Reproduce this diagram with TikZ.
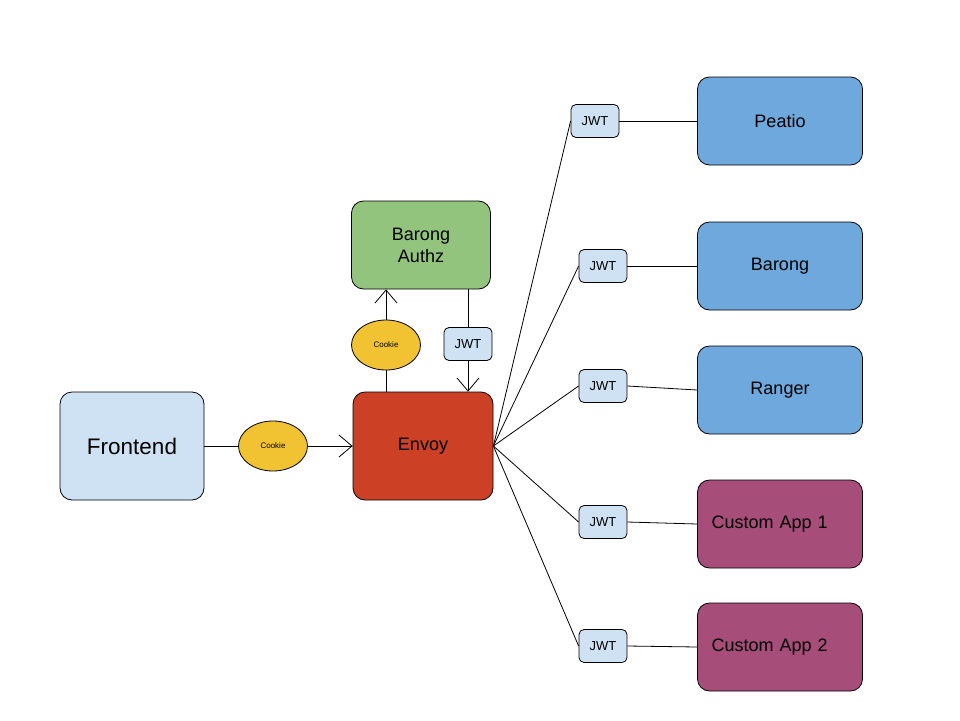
\documentclass[tikz,border=0pt]{standalone}
\usepackage{fontspec}
\setmainfont{Liberation Sans}
\usetikzlibrary{shapes.geometric, arrows.meta}
\definecolor{paleblue}{HTML}{CFE2F3}
\definecolor{envoyred}{HTML}{CC4125}
\definecolor{authzgreen}{HTML}{93C47D}
\definecolor{cookieyellow}{HTML}{F1C232}
\definecolor{serviceblue}{HTML}{6FA8DC}
\definecolor{appmagenta}{HTML}{A64D79}
\tikzset{%
	every box/.style={
		draw,
		rounded corners=12pt,
		inner sep=0pt,
		align=center,
		font=\fontsize{18}{22}\selectfont
	},
	cookie/.style={
		ellipse,
		draw,
		fill=cookieyellow,
		inner sep=0pt,
		minimum width=69pt,
		minimum height=50pt,
		font=\fontsize{8}{9}\selectfont
	},
	jwt/.style={
		draw,
		rounded corners=5pt,
		fill=paleblue,
		inner sep=0pt,
		minimum width=48pt,
		minimum height=33pt,
		font=\fontsize{13}{15}\selectfont
	},
	service/.style={
		every box,
		fill=serviceblue,
		minimum width=165pt,
		minimum height=88pt
	},
	app/.style={
		fill=appmagenta,
		text width=137pt,
		inner xsep=14pt,
		align=left
	},
	service 4/.style={app},
	service 5/.style={app},
}

\begin{document}
\begin{tikzpicture}[x=1pt, y=-1pt, line width=0.8pt, >={Straight Barb[length=13pt, width=22pt]}]
		\useasboundingbox (0,0) rectangle (960,720);
		
		\node [every box, fill=paleblue, minimum width=144pt, minimum height=108pt, font=\fontsize{22.5}{27}\selectfont] (frontend) at (132,446) {Frontend};
		\node [every box, fill=envoyred, minimum width=140pt, minimum height=108pt] (envoy) at (423,446) {Envoy};
		\node [every box, fill=authzgreen, minimum width=139pt, minimum height=88pt] (authz) at (421,245) {Barong\\Authz};
		
		\node [cookie] (cookie-1) at (273,446) {Cookie};
		\node [cookie] (cookie-2) at (386,345) {Cookie};
		\node [jwt] (jwt-authz) at (468,344) {JWT};
		
		\draw (frontend) -- (cookie-1);
		\draw [->] (cookie-1) -- (envoy);
		
		\draw (envoy.north -| cookie-2) -- (cookie-2.south);
		\draw [->] (cookie-2.north) -- (cookie-2.north |- authz.south);
		
		\draw (authz.south -| jwt-authz) -- (jwt-authz.north);
		\draw [->] (jwt-authz.south) -- (jwt-authz.south |- envoy.north);
		
		\foreach \l/\y/\x/\j [count=\i] in {Peatio/121/595/121, Barong/266/603/266, Ranger/390/603/386, Custom App 1/524/603/522, Custom App 2/647/603/646}
		{
		\node [service, service \i/.try] (service-\i) at (780,\y) {\l};
		\node [jwt] (jwt-\i) at (\x,\j) {JWT};
		\draw (envoy.east) -- (jwt-\i.west);
		\draw (jwt-\i.east) -- (service-\i.west);
		}
		
		\end{tikzpicture}
\end{document}
